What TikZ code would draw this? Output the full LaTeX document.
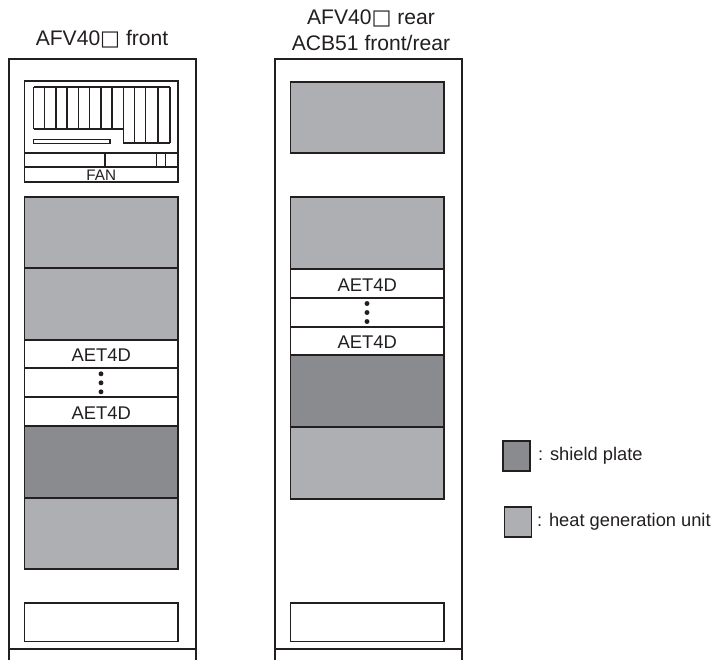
\documentclass[tikz,border=0pt]{standalone}
\usepackage{fontspec}
\setmainfont{Liberation Sans}
\newfontfamily\symbolfont{DejaVu Sans}
\definecolor{heatgray}{HTML}{ADAFB2}
\definecolor{shieldgray}{HTML}{8A8B8F}
\definecolor{linegray}{HTML}{231F20}
\newcommand{\boxmark}{{\symbolfont □}}
\tikzset{
  rackline/.style={draw=linegray, line width=1pt},
  heatunit/.style={rackline, fill=heatgray},
  shieldunit/.style={rackline, fill=shieldgray},
  emptyunit/.style={rackline, fill=white},
  caption/.style={font=\fontsize{18pt}{20pt}\selectfont, text=linegray, inner sep=0pt},
  unittext/.style={caption, font=\fontsize{15.7pt}{18pt}\selectfont, yshift=-1pt},
  legendtext/.style={caption, anchor=west, font=\fontsize{15.6pt}{18pt}\selectfont},
  vdot/.style={circle, fill=linegray, inner sep=0pt, minimum size=4.2pt},
}
\begin{document}
\begin{tikzpicture}[x=0.03cm, y=-0.03cm]
        \useasboundingbox (0,0) rectangle (716,660);

        % left rack
        \draw[rackline] (9,660) -- (9,59) -- (196,59) -- (196,660);
        \draw[rackline] (9,649) -- (196,649);
        \node[caption] (fronttitle) at (102,39) {AFV40\boxmark\ front};

        % shelf on top
        \draw[emptyunit] (24.5,81) rectangle (178,153);
        \foreach \x in {33.5,44.7,56,67,78.3,89.3,101,112,123.3,134.7,145.7,158,170} {
          \draw[rackline] (\x,87) -- (\x,129);
        }
        \foreach \x in {123.3,134.7,145.7,158,170} {
          \draw[rackline] (\x,129) -- (\x,143);
        }
        \draw[rackline] (33.5,87) -- (170,87);
        \draw[rackline] (33.5,129) -- (123.3,129);
        \draw[rackline] (123.3,143) -- (170,143);
        \draw[rackline] (33.5,139.5) rectangle (110,143.5);
        \draw[emptyunit] (24.5,153) rectangle (178,167);
        \draw[rackline] (105,153) -- (105,167);
        \draw[rackline] (156.7,153) rectangle (165.3,167);
        \draw[emptyunit] (24.5,167) rectangle node[unittext, font=\fontsize{13pt}{15pt}\selectfont] (fanlabel) {FAN} (178,182);

        \draw[heatunit] (24.5,197) rectangle (178,268);
        \draw[heatunit] (24.5,268) rectangle (178,340);
        \draw[emptyunit] (24.5,340) rectangle node[unittext] (fronttop) {AET4D} (178,368);
        \draw[emptyunit] (24.5,368) rectangle node (frontgap) {} (178,397);
        \draw[emptyunit] (24.5,397) rectangle node[unittext] (frontlow) {AET4D} (178,426);
        \foreach \d in {-9,0,9} {
          \node[vdot] at (101,382.8+\d) {};
        }
        \draw[shieldunit] (24.5,426) rectangle (178,498);
        \draw[heatunit] (24.5,498) rectangle (178,569);
        \draw[emptyunit] (24.5,603) rectangle (178,641.5);

        % right rack
        \draw[rackline] (275,660) -- (275,59) -- (462,59) -- (462,660);
        \draw[rackline] (275,649) -- (462,649);
        \node[caption] (reartitle) at (371,18) {AFV40\boxmark\ rear};
        \node[caption] (acbtitle) at (371,43) {ACB51 front/rear};

        \draw[heatunit] (290.5,82) rectangle (444,153);
        \draw[heatunit] (290.5,197) rectangle (444,269);
        \draw[emptyunit] (290.5,269) rectangle node[unittext] (reartop) {AET4D} (444,298);
        \draw[emptyunit] (290.5,298) rectangle node (reargap) {} (444,327);
        \draw[emptyunit] (290.5,327) rectangle node[unittext] (rearlow) {AET4D} (444,355);
        \foreach \d in {-9,0,9} {
          \node[vdot] at (367,312.5+\d) {};
        }
        \draw[shieldunit] (290.5,355) rectangle (444,427);
        \draw[heatunit] (290.5,427) rectangle (444,499);
        \draw[emptyunit] (290.5,603) rectangle (444,641.5);

        % legend
        \draw[shieldunit] (503,441) rectangle (530,471);
        \node[legendtext] (shieldtext) at (538,455.5) {: shield plate};
        \draw[heatunit] (504.5,507) rectangle (531.5,537);
        \node[legendtext] (heattext) at (537,521.5) {: heat generation unit};
      \end{tikzpicture}
\end{document}
